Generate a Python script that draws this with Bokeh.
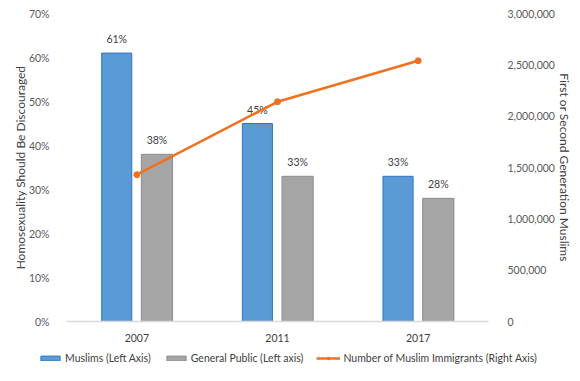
from bokeh.plotting import figure
from bokeh.models import (FactorRange, Range1d, LinearAxis, NumeralTickFormatter,
                          ColumnDataSource, Legend, LegendItem, FixedTicker)
from bokeh.transform import dodge
from bokeh.core.properties import value
from bokeh.embed import file_html
from bokeh.resources import INLINE

years = ["2007", "2011", "2017"]
muslims = [0.61, 0.45, 0.33]
general = [0.38, 0.33, 0.28]
immigrants = [1430000, 2140000, 2540000]
muslim_labels = ["61%", "45%", "33%"]
general_labels = ["38%", "33%", "28%"]
legend_labels = ["Muslims (Left Axis)", "General Public (Left axis)",
                 "Number of Muslim Immigrants (Right Axis)"]

FONT = "Lato"
FS = "10.5px"
TXT = "#404040"
TICK = "#595959"
BLUE, BLUE_EDGE = "#5B9BD5", "#2E75C6"
GRAY, GRAY_EDGE = "#A5A5A5", "#8C8C8C"
ORANGE = "#F0701E"

src = ColumnDataSource(dict(year=years, muslims=muslims, general=general,
                            imm=immigrants, ml=muslim_labels, gl=general_labels))

p = figure(x_range=FactorRange(*years, range_padding=0), y_range=Range1d(0, 0.7),
           width=580, height=344, output_backend="svg", toolbar_location=None,
           min_border_left=66, min_border_right=92, min_border_top=13, min_border_bottom=22)
p.outline_line_color = None
p.xgrid.grid_line_color = None
p.ygrid.grid_line_color = None
p.extra_y_ranges = {"right": Range1d(0, 3000000)}

p.vbar(x=dodge("year", -0.143, range=p.x_range), top="muslims", width=0.214, source=src,
       fill_color=BLUE, line_color=BLUE_EDGE, line_width=1)
p.vbar(x=dodge("year", 0.143, range=p.x_range), top="general", width=0.222, source=src,
       fill_color=GRAY, line_color=GRAY_EDGE, line_width=1)

p.text(x=dodge("year", -0.143, range=p.x_range), y="muslims", text="ml", source=src,
       y_offset=-8, text_align="center", text_baseline="bottom",
       text_font=value(FONT), text_font_size=FS, text_color=TXT)
p.text(x=dodge("year", 0.143, range=p.x_range), y="general", text="gl", source=src,
       y_offset=-8, text_align="center", text_baseline="bottom",
       text_font=value(FONT), text_font_size=FS, text_color=TXT)

p.line(x="year", y="imm", source=src, y_range_name="right", line_color=ORANGE, line_width=2.5)
p.scatter(x="year", y="imm", source=src, y_range_name="right", size=6,
          fill_color=ORANGE, line_color=ORANGE)

def style_y(ax, label, standoff, label_standoff):
    ax.axis_line_color = None
    ax.major_tick_line_color = None
    ax.minor_tick_line_color = None
    ax.major_label_text_font = FONT
    ax.major_label_text_font_size = FS
    ax.major_label_text_color = TICK
    ax.major_label_standoff = standoff
    ax.axis_label = label
    ax.axis_label_text_font = FONT
    ax.axis_label_text_font_size = "12px"
    ax.axis_label_text_font_style = "normal"
    ax.axis_label_text_color = TXT
    ax.axis_label_standoff = label_standoff

ya = p.yaxis[0]
ya.ticker = FixedTicker(ticks=[0, .1, .2, .3, .4, .5, .6, .7])
ya.formatter = NumeralTickFormatter(format="0%")
style_y(ya, "Homosexuality Should Be Discouraged", 11, -2)

ra = LinearAxis(y_range_name="right",
                ticker=FixedTicker(ticks=[0, 500000, 1000000, 1500000, 2000000, 2500000, 3000000]),
                formatter=NumeralTickFormatter(format="0,0"))
style_y(ra, "First or Second Generation Muslims", 13, -1)
p.add_layout(ra, "right")

xa = p.xaxis[0]
xa.axis_line_color = "#D9D9D9"
xa.axis_line_width = 1.5
xa.major_tick_line_color = None
xa.minor_tick_line_color = None
xa.major_label_text_font = FONT
xa.major_label_text_font_size = FS
xa.major_label_text_color = TXT
xa.major_label_standoff = 6

# legend strip: its own root, so that it can span the full width
lg = figure(width=580, height=35, output_backend="svg", toolbar_location=None,
            x_range=Range1d(0, 1), y_range=Range1d(0, 1),
            min_border=0, outline_line_color=None)
lg.axis.visible = False
lg.grid.visible = False
dummy = ColumnDataSource(dict(x=[-10], y=[-10]))
g1 = lg.rect(x="x", y="y", width=1, height=1, source=dummy, fill_color=BLUE, line_color=BLUE_EDGE)
g2 = lg.rect(x="x", y="y", width=1, height=1, source=dummy, fill_color=GRAY, line_color=GRAY_EDGE)
g3 = lg.line(x="x", y="y", source=dummy, line_color=ORANGE, line_width=2.5)
g4 = lg.scatter(x="x", y="y", source=dummy, size=6, fill_color=ORANGE, line_color=ORANGE)

legend = Legend(items=[
    LegendItem(label=legend_labels[0], renderers=[g1]),
    LegendItem(label=legend_labels[1], renderers=[g2]),
    LegendItem(label=legend_labels[2], renderers=[g3, g4]),
], orientation="horizontal", location=(38, 15),
   label_text_font=FONT, label_text_font_size=FS, label_text_color=TXT,
   glyph_width=24, glyph_height=6, label_standoff=3, spacing=13,
   border_line_color=None, background_fill_alpha=0, padding=0, margin=0,
   label_height=12)
lg.add_layout(legend)

open("out.html", "w").write(file_html([p, lg], INLINE))
